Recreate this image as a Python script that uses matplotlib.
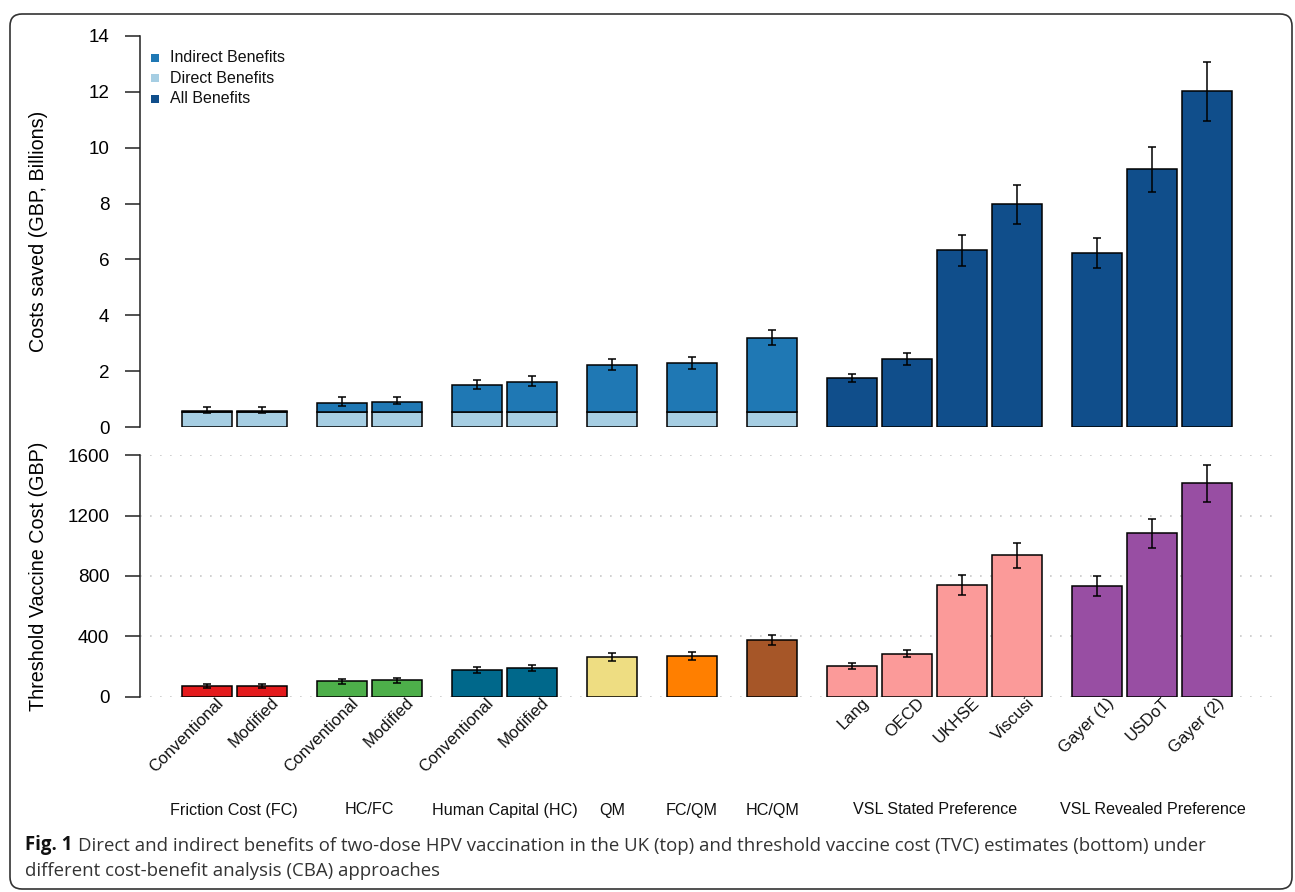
import matplotlib
matplotlib.use("Agg")
import matplotlib.pyplot as plt
import matplotlib.transforms as mtransforms
from matplotlib.patches import FancyBboxPatch
import numpy as np

plt.rcParams["font.family"] = ["Liberation Sans", "DejaVu Sans"]

# ---- data -------------------------------------------------------------
groups = ["Friction Cost (FC)", "HC/FC", "Human Capital (HC)", "QM", "FC/QM",
          "HC/QM", "VSL Stated Preference", "VSL Revealed Preference"]
group_sizes = [2, 2, 2, 1, 1, 1, 4, 3]
bar_labels = ["Conventional", "Modified", "Conventional", "Modified",
              "Conventional", "Modified", "", "", "",
              "Lang", "OECD", "UKHSE", "Viscusi",
              "Gayer (1)", "USDoT", "Gayer (2)"]

# costs saved (GBP billions): non-VSL approaches split into direct + indirect
direct_benefits = [0.55, 0.55, 0.55, 0.55, 0.55, 0.55, 0.55, 0.55, 0.55]
indirect_benefits = [0.04, 0.04, 0.32, 0.36, 0.94, 1.07, 1.68, 1.73, 2.63]
# VSL approaches: all benefits
all_benefits = [1.76, 2.43, 6.34, 7.97, 6.24, 9.24, 12.03]
saved_low = [0.51, 0.51, 0.75, 0.81, 1.35, 1.47, 2.04, 2.08, 2.94,
             1.61, 2.23, 5.76, 7.27, 5.69, 8.41, 10.96]
saved_high = [0.73, 0.72, 1.08, 1.06, 1.67, 1.81, 2.45, 2.51, 3.46,
              1.91, 2.65, 6.87, 8.66, 6.78, 10.04, 13.07]

# threshold vaccine cost (GBP)
tvc = [69, 71, 106, 111, 177, 190, 263, 268, 374,
       206, 285, 742, 937, 734, 1085, 1415]
tvc_low = [56, 56, 86, 93, 157, 170, 239, 243, 345,
           186, 261, 676, 853, 667, 988, 1289]
tvc_high = [86, 86, 117, 124, 195, 212, 288, 294, 407,
            225, 312, 809, 1019, 798, 1180, 1538]

group_colors = ["#E41A1C", "#4DAF4A", "#00688B", "#EEDD82",
                "#FF7F00", "#A65628", "#FB9A99", "#984EA3"]
col_direct = "#A6CEE3"
col_indirect = "#1F78B4"
col_all = "#104E8B"

# ---- bar positions (R barplot style spacing) ---------------------------
width = 1.0
inner_gap = 0.1
group_gap = 0.6
lefts = []
group_centers = []
pos = 0.0
for gi, n in enumerate(group_sizes):
    if gi > 0:
        pos += group_gap - inner_gap
    start = pos
    for k in range(n):
        lefts.append(pos)
        pos += width + inner_gap
    group_centers.append((start + pos - inner_gap) / 2)
lefts = np.array(lefts)
centers = lefts + width / 2
n_split = len(direct_benefits)

bar_colors = []
for c, n in zip(group_colors, group_sizes):
    bar_colors += [c] * n

W, H = 1295, 892
fig = plt.figure(figsize=(W / 100, H / 100), dpi=100)

ax_left = 140 / W
ax_width = (1272 - 140) / W
ax1 = fig.add_axes([ax_left, 1 - 427 / H, ax_width, (427 - 36) / H])
ax2 = fig.add_axes([ax_left, 1 - 696.7 / H, ax_width, (696.7 - 455.3) / H])

xlim = (lefts[0] - 0.834, lefts[-1] + width + 0.79)
edge_kw = dict(edgecolor="black", linewidth=1.1, align="edge", width=width)
err_kw = dict(fmt="none", ecolor="black", elinewidth=1.1, capsize=2.6,
              capthick=1.1, zorder=4)


def style_axis(ax, ymax, ticks, fmt):
    ax.set_xlim(*xlim)
    ax.set_ylim(0, ymax)
    for s in ["top", "right", "bottom"]:
        ax.spines[s].set_visible(False)
    ax.spines["left"].set_linewidth(1.1)
    ax.spines["left"].set_color("#222222")
    ax.spines["left"].set_bounds(0, ymax)
    ax.set_xticks([])
    ax.set_yticks(ticks)
    ax.set_yticklabels([fmt(t) for t in ticks])
    ax.tick_params(axis="y", length=11, width=1.1, pad=11, labelsize=13.6,
                   color="#222222")


# ---- top panel: costs saved --------------------------------------------
total_split = np.array(direct_benefits) + np.array(indirect_benefits)
ax1.bar(lefts[:n_split], direct_benefits, color=col_direct, zorder=2, **edge_kw)
ax1.bar(lefts[:n_split], indirect_benefits, bottom=direct_benefits,
        color=col_indirect, zorder=2, **edge_kw)
ax1.bar(lefts[n_split:], all_benefits, color=col_all, zorder=2, **edge_kw)
totals = np.concatenate([total_split, all_benefits])
ax1.errorbar(centers, totals,
             yerr=[totals - np.array(saved_low), np.array(saved_high) - totals],
             **err_kw)
style_axis(ax1, 14, range(0, 15, 2), lambda t: f"{t}")
ax1.set_ylabel("Costs saved (GBP, Billions)", fontsize=14.2)
ax1.yaxis.set_label_coords(-92 / 1132, 0.5)

legend_items = [("Indirect Benefits", col_indirect),
                ("Direct Benefits", col_direct),
                ("All Benefits", col_all)]
for i, (lab, col) in enumerate(legend_items):
    y = (427 - (57.5 + 20.7 * i)) / 391
    ax1.plot([15 / 1132], [y], marker="s", markersize=5.8, color=col,
             markeredgewidth=0, transform=ax1.transAxes, clip_on=False)
    ax1.text(30 / 1132, y, lab, transform=ax1.transAxes, fontsize=11.5,
             va="center", ha="left", color="#111111")

# ---- bottom panel: threshold vaccine cost ------------------------------
for t in [0, 400, 800, 1200, 1600]:
    ax2.axhline(t, color="#c8c8c8", linewidth=1.2, linestyle=(0, (1, 5)),
                zorder=0.5)
tvc_arr = np.array(tvc)
ax2.bar(lefts, tvc_arr, color=bar_colors, zorder=2, **edge_kw)
ax2.errorbar(centers, tvc_arr,
             yerr=[tvc_arr - np.array(tvc_low), np.array(tvc_high) - tvc_arr],
             **err_kw)
style_axis(ax2, 1600, range(0, 1601, 400), lambda t: f"{t}")
ax2.set_ylabel("Threshold Vaccine Cost (GBP)", fontsize=14.2)
ax2.yaxis.set_label_coords(-92 / 1132, 0.5)

# rotated bar labels
lab_offset = mtransforms.ScaledTranslation(0.09, 0.015, fig.dpi_scale_trans)
for c, lab in zip(centers, bar_labels):
    if lab:
        ax2.text(c, 0, lab, rotation=45, rotation_mode="anchor", ha="right",
                 va="top", fontsize=12, color="#111111",
                 transform=ax2.transData + lab_offset)

# group labels
grp_trans = mtransforms.blended_transform_factory(ax2.transData, fig.transFigure)
for gc, g in zip(group_centers, groups):
    ax2.text(gc, 1 - 810 / H, g, transform=grp_trans, ha="center",
             va="center", fontsize=11.6, color="#111111")

# ---- caption -------------------------------------------------------------
cap_font = ["Open Sans", "DejaVu Sans"]
cap_size = 13.4
fig_lbl = fig.text(25 / W, 1 - 855 / H, "Fig. 1", fontsize=cap_size,
                   fontweight="bold", family=cap_font, va="bottom",
                   color="#111111")
ax2.annotate("Direct and indirect benefits of two-dose HPV vaccination in the UK (top) "
             "and threshold vaccine cost (TVC) estimates (bottom) under",
             xy=(1, 0), xycoords=fig_lbl, xytext=(4, 0),
             textcoords="offset points", va="bottom", ha="left",
             fontsize=cap_size, family=cap_font, color="#333333",
             annotation_clip=False)
fig.text(25 / W, 1 - 880 / H,
         "different cost-benefit analysis (CBA) approaches",
         fontsize=cap_size, family=cap_font, va="bottom", color="#333333")

# rounded frame around the figure
frame = FancyBboxPatch((10, 3), 1282, 875,
                       boxstyle="round,pad=0,rounding_size=12",
                       transform=None, facecolor="none",
                       edgecolor="#333333", linewidth=1.2)
fig.patches.append(frame)

fig.savefig("out.png", dpi=100)
